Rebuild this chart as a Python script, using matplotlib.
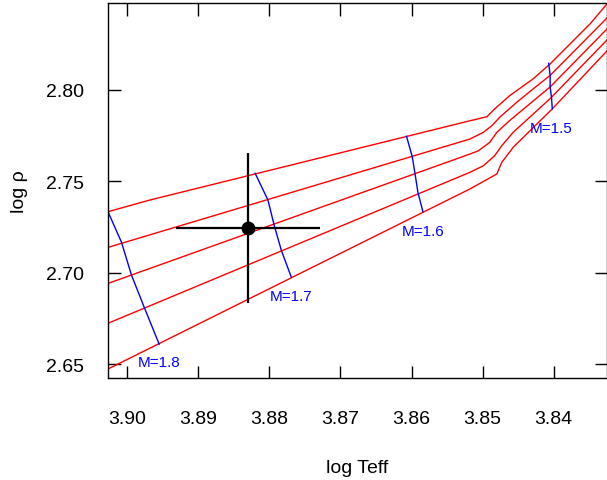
import matplotlib
matplotlib.use("Agg")
import matplotlib.pyplot as plt
import numpy as np

plt.rcParams['font.family'] = ['Liberation Sans', 'DejaVu Sans']

# red tracks (log Teff, log rho), top to bottom
t1_x = [3.9027, 3.8968, 3.8518, 3.8494, 3.8483, 3.8462, 3.8429, 3.8405, 3.8377, 3.8349, 3.8325]
t1_y = [2.7333, 2.7397, 2.7830, 2.7852, 2.7895, 2.7967, 2.8059, 2.8141, 2.8250, 2.8359, 2.8469]

t2_x = [3.9027, 3.8518, 3.8499, 3.8487, 3.8476, 3.8452, 3.8429, 3.8405, 3.8325]
t2_y = [2.7138, 2.7730, 2.7767, 2.7803, 2.7849, 2.7931, 2.8004, 2.8078, 2.8392]

t3_x = [3.9027, 3.8518, 3.8506, 3.8490, 3.8480, 3.8462, 3.8405, 3.8325]
t3_y = [2.6941, 2.7648, 2.7666, 2.7712, 2.7767, 2.7831, 2.8015, 2.8332]

t4_x = [3.9027, 3.8518, 3.8499, 3.8483, 3.8473, 3.8457, 3.8404, 3.8325]
t4_y = [2.6723, 2.7548, 2.7584, 2.7639, 2.7694, 2.7767, 2.7955, 2.8272]

t5_x = [3.9027, 3.8518, 3.8480, 3.8473, 3.8457, 3.8402, 3.8325]
t5_y = [2.6473, 2.7457, 2.7539, 2.7603, 2.7685, 2.7895, 2.8212]

tracks = [(t1_x, t1_y), (t2_x, t2_y), (t3_x, t3_y), (t4_x, t4_y), (t5_x, t5_y)]

# blue iso-mass lines
m18_x = [3.9027, 3.9008, 3.8994, 3.8976, 3.8955]
m18_y = [2.7333, 2.7166, 2.6987, 2.6810, 2.6609]
m17_x = [3.8820, 3.8802, 3.8793, 3.8783, 3.8769]
m17_y = [2.7543, 2.7397, 2.7256, 2.7120, 2.6974]
m16_x = [3.8607, 3.8599, 3.8595, 3.8591, 3.8584]
m16_y = [2.7745, 2.7634, 2.7539, 2.7439, 2.7333]
m15_x = [3.8407, 3.8405, 3.8405, 3.8403, 3.8402]
m15_y = [2.8144, 2.8078, 2.8015, 2.7955, 2.7895]

mass_lines = [(m18_x, m18_y), (m17_x, m17_y), (m16_x, m16_y), (m15_x, m15_y)]
mass_labels = ['M=1.8', 'M=1.7', 'M=1.6', 'M=1.5']
label_x = [3.8985, 3.8799, 3.8614, 3.8433]
label_y = [2.6509, 2.6874, 2.7229, 2.7790]

# observed star
star_x = 3.883
star_y = 2.7242
star_xerr = 0.0101
star_yerr = 0.041

fig = plt.figure(figsize=(6.07, 4.81), dpi=100)
ax = fig.add_axes([0.1779, 0.2121, 0.8221, 0.7796])

for tx, ty in tracks:
    ax.plot(tx, ty, color='red', lw=1.0)

for (mx, my), lab, lx, ly in zip(mass_lines, mass_labels, label_x, label_y):
    ax.plot(mx, my, color='blue', lw=1.0)
    ax.text(lx, ly, lab, color='blue', fontsize=11, ha='left', va='center')

ax.errorbar(star_x, star_y, xerr=star_xerr, yerr=star_yerr, fmt='o',
            color='black', ms=9, elinewidth=1.6, capsize=0, zorder=5)

ax.set_xlim(3.9027, 3.8325)
ax.set_ylim(2.6424, 2.8474)
ax.set_xticks([3.90, 3.89, 3.88, 3.87, 3.86, 3.85, 3.84])
ax.set_xticklabels(['3.90', '3.89', '3.88', '3.87', '3.86', '3.85', '3.84'])
ax.set_yticks([2.65, 2.70, 2.75, 2.80])
ax.set_yticklabels(['2.65', '2.70', '2.75', '2.80'])

ax.tick_params(axis='both', direction='in', length=9, width=1.0,
               top=True, right=True, labelsize=14)
ax.tick_params(axis='x', pad=23)
ax.tick_params(axis='y', pad=17)
for s in ax.spines.values():
    s.set_linewidth(1.0)

ax.set_xlabel('log Teff', fontsize=14)
ax.set_ylabel('log ρ', fontsize=14)
ax.xaxis.set_label_coords(0.5, -0.217)
ax.yaxis.set_label_coords(-0.16, 0.5)

fig.savefig('out.png', dpi=100)
